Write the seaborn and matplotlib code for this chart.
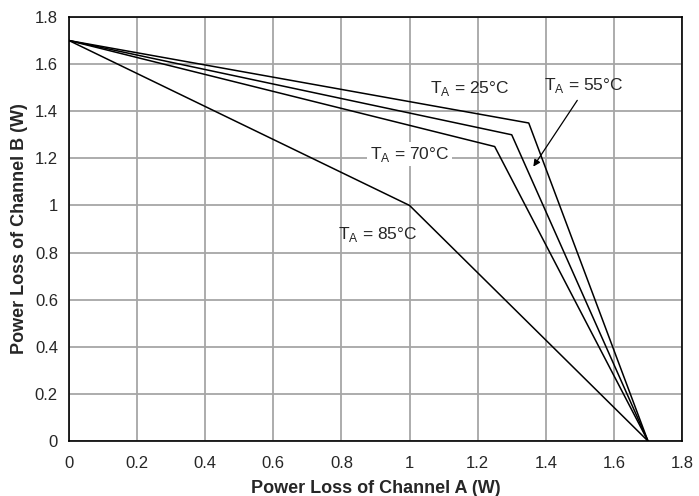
import matplotlib
matplotlib.use("Agg")
import matplotlib.pyplot as plt
import seaborn as sns
import pandas as pd

# Data
labels = ["25", "55", "70", "85"]
x_25 = [0, 1.35, 1.7]
y_25 = [1.7, 1.35, 0]
x_55 = [0, 1.3, 1.7]
y_55 = [1.7, 1.3, 0]
x_70 = [0, 1.25, 1.7]
y_70 = [1.7, 1.25, 0]
x_85 = [0, 1.0, 1.7]
y_85 = [1.7, 1.0, 0]
ticks = [0, 0.2, 0.4, 0.6, 0.8, 1.0, 1.2, 1.4, 1.6, 1.8]
tick_labels = ["0", "0.2", "0.4", "0.6", "0.8", "1", "1.2", "1.4", "1.6", "1.8"]

frames = []
for lab, xs, ys in zip(labels, [x_25, x_55, x_70, x_85], [y_25, y_55, y_70, y_85]):
    frames.append(pd.DataFrame({"x": xs, "y": ys, "T": lab}))
df = pd.concat(frames, ignore_index=True)

sns.set_style("white")
plt.rcParams["font.family"] = ["Liberation Sans", "DejaVu Sans"]

fig = plt.figure(figsize=(6.99, 4.96), dpi=100)
ax = fig.add_axes([69/699, 1 - 441/496, 613/699, 424/496])

sns.lineplot(data=df, x="x", y="y", hue="T", palette=["black"] * 4,
             sort=False, estimator=None, linewidth=1.1, legend=False, ax=ax)

ax.set_xlim(0, 1.8)
ax.set_ylim(0, 1.8)
ax.set_xticks(ticks)
ax.set_xticklabels(tick_labels)
ax.set_yticks(ticks)
ax.set_yticklabels(tick_labels)
ax.grid(True, color="#a6a6a6", linewidth=1.3)
ax.set_axisbelow(True)
for s in ax.spines.values():
    s.set_color("black")
    s.set_linewidth(1.2)
ax.tick_params(axis="x", labelsize=12, length=0, pad=11)
ax.tick_params(axis="y", labelsize=12, length=0, pad=8)
ax.set_xlabel("Power Loss of Channel A (W)", fontsize=13, fontweight="bold", labelpad=6)
ax.set_ylabel("Power Loss of Channel B (W)", fontsize=13, fontweight="bold", labelpad=5)

fs = 12.5
ax.text(1.176, 1.498, r"T$_\mathregular{A}$ = 25°C", fontsize=fs, ha="center", va="center")
ax.text(1.51, 1.51, r"T$_\mathregular{A}$ = 55°C", fontsize=fs, ha="center", va="center")
ax.text(1.0, 1.218, r"T$_\mathregular{A}$ = 70°C", fontsize=fs, ha="center", va="center",
        bbox=dict(facecolor="white", edgecolor="none", pad=2))
ax.text(0.906, 0.875, r"T$_\mathregular{A}$ = 85°C", fontsize=fs, ha="center", va="center")
ax.annotate("", xy=(1.359, 1.155), xytext=(1.497, 1.456),
            arrowprops=dict(arrowstyle="-|>", color="black", lw=0.9, mutation_scale=10))

fig.savefig("out.png", dpi=100)
